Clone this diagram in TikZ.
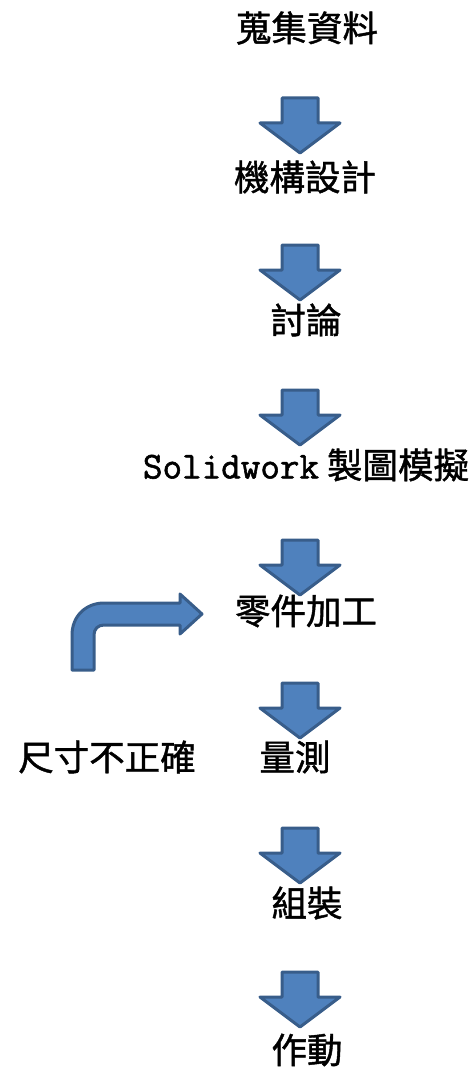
\documentclass[tikz,border=0pt]{standalone}
\usepackage{fontspec}
\newfontfamily\cjk[FakeBold=1.2]{Noto Sans CJK TC}
\newfontfamily\latinmono[FakeBold=1.5]{Latin Modern Mono}
\tikzset{
  lbl/.style={font=\cjk\fontsize{35.5}{40}\selectfont, inner sep=0pt, text=black},
  downarr/.style={fill=arrfill, draw=arrline, line width=3pt, line join=round},
}
\definecolor{arrfill}{HTML}{4F81BD}
\definecolor{arrline}{HTML}{385D8A}
\begin{document}
\begin{tikzpicture}[x=1pt,y=-1pt]
\useasboundingbox (0,0) rectangle (475,1070);
% labels
\node[lbl] (t1) at (307,28) {蒐集資料};
\node[lbl] (t2) at (305,177) {機構設計};
\node[lbl] (t3) at (306,320) {討論};
\node[lbl] (t4) at (306,465) {{\latinmono\fontsize{38}{40}\selectfont Solidwork} 製圖模擬};
\node[lbl] (t5) at (306,611) {零件加工};
\node[lbl] (t6) at (295,757) {量測};
\node[lbl] (t7) at (107,757) {尺寸不正確};
\node[lbl] (t8) at (307,903) {組裝};
\node[lbl] (t9) at (307,1050) {作動};
% down arrows
\foreach \n/\y in {a1/98,a2/245,a3/390,a4/540,a5/683,a6/828,a7/972}{
  \draw[downarr] (282,\y) -- (318,\y) -- (318,\y+25) -- (340,\y+25) -- (300,\y+55)
    -- (260,\y+25) -- (282,\y+25) -- cycle;
}
% bent arrow
\draw[downarr] (72,670) -- (72,635) .. controls (72,616) and (86,603) .. (104,603)
  -- (180,603) -- (180,594) -- (202,614) -- (180,634) -- (180,625) -- (104,625)
  .. controls (98,625) and (94,629) .. (94,635) -- (94,670) -- cycle;
\end{tikzpicture}
\end{document}
